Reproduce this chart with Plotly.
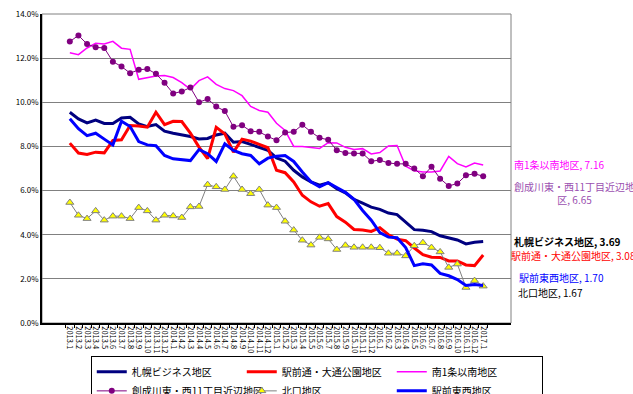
import plotly.graph_objects as go

# Monthly categories 2013.1 - 2017.1
months = [f"{y}.{m}" for y in range(2013, 2017) for m in range(1, 13)] + ["2017.1"]

# Vacancy rates (%) by district
sapporo_business = [9.55, 9.25, 9.07, 9.19, 9.04, 9.04, 9.29, 9.32, 9.02, 8.90, 8.99, 8.69, 8.60,
                    8.54, 8.45, 8.34, 8.36, 8.52, 8.60, 8.19, 8.22, 8.09, 7.94, 7.82, 7.48,
                    7.33, 6.92, 6.62, 6.39, 6.24, 6.35, 6.08, 5.90, 5.60, 5.43, 5.25, 5.15,
                    4.98, 4.91, 4.55, 4.23, 4.20, 4.14, 3.95, 3.84, 3.76, 3.58, 3.66, 3.69]
ekimae_odori = [8.15, 7.70, 7.64, 7.74, 7.71, 8.27, 8.30, 8.95, 8.93, 8.87, 9.55, 8.99, 9.14,
                9.13, 8.60, 7.97, 7.45, 8.87, 8.57, 7.74, 8.33, 8.24, 8.09, 7.94, 6.92,
                6.81, 6.39, 5.79, 5.49, 5.29, 5.41, 4.82, 4.57, 4.24, 4.21, 4.15, 4.32,
                4.00, 3.80, 3.73, 3.40, 3.10, 2.98, 2.97, 2.81, 2.81, 2.63, 2.60, 3.08]
minami1jo = [12.24, 12.16, 12.46, 12.67, 12.64, 12.76, 12.45, 12.40, 11.04, 11.10, 11.19, 11.21, 11.12,
             10.89, 10.59, 10.98, 11.15, 10.81, 10.62, 10.53, 10.30, 9.81, 9.63, 9.55, 9.05,
             8.72, 8.00, 8.00, 7.94, 7.91, 8.17, 8.16, 7.96, 7.86, 7.90, 7.66, 7.72,
             8.02, 8.04, 7.10, 6.90, 6.84, 6.84, 6.89, 7.55, 7.22, 7.07, 7.25, 7.16]
soseigawa = [12.75, 13.03, 12.64, 12.49, 12.46, 11.84, 11.62, 11.32, 11.47, 11.51, 11.29, 10.88, 10.40,
             10.49, 10.67, 10.00, 10.15, 9.81, 9.60, 8.89, 8.96, 8.69, 8.66, 8.45, 8.28,
             8.63, 8.66, 8.98, 8.66, 8.39, 8.30, 7.83, 7.70, 7.68, 7.68, 7.33, 7.38,
             7.25, 7.21, 7.21, 7.00, 6.65, 7.08, 6.54, 6.21, 6.32, 6.69, 6.76, 6.65]
kitaguchi = [5.46, 4.88, 4.73, 5.08, 4.66, 4.84, 4.84, 4.73, 5.23, 5.08, 4.66, 4.88, 4.85,
             4.78, 5.26, 5.28, 6.27, 6.17, 6.05, 6.65, 6.05, 5.86, 6.05, 5.34, 5.23,
             4.61, 4.21, 3.75, 3.53, 3.88, 3.81, 3.33, 3.52, 3.43, 3.43, 3.43, 3.41,
             3.16, 3.16, 3.04, 3.50, 3.64, 3.42, 3.22, 2.52, 2.67, 1.61, 1.92, 1.67]
ekimae_tozai = [9.25, 8.80, 8.49, 8.60, 8.33, 8.07, 9.14, 8.90, 8.22, 8.07, 8.03, 7.59, 7.44,
                7.39, 7.36, 7.86, 7.67, 7.32, 8.12, 7.82, 7.67, 7.59, 7.21, 7.47, 7.56,
                7.59, 7.32, 6.84, 6.40, 6.17, 6.36, 6.14, 5.92, 5.60, 5.10, 4.66, 4.10,
                3.89, 3.86, 3.42, 2.60, 2.68, 2.63, 2.25, 2.14, 1.97, 1.70, 1.74, 1.70]

y_ticks = [0, 2, 4, 6, 8, 10, 12, 14]
y_tick_labels = ["0.0%", "2.0%", "4.0%", "6.0%", "8.0%", "10.0%", "12.0%", "14.0%"]

FONT = "Noto Sans CJK JP"

series = [
    # name, values, colour, width, marker, label colour, label bold, label x/y shift(px)
    ("札幌ビジネス地区", sapporo_business, "#000080", 3, None, "#000000", True, (1, 0)),
    ("駅前通・大通公園地区", ekimae_odori, "#FF0000", 3, None, "#FF0000", False, (-2, 0)),
    ("南1条以南地区", minami1jo, "#FF00FF", 1.5, None, "#FF00FF", False, (1, 0)),
    ("創成川東・西11丁目近辺地区", soseigawa, "#800080", 1, "circle", "#9B4FB0", False, (1, -17)),
    ("北口地区", kitaguchi, "#808080", 1, "triangle-up", "#000000", False, (5, -6)),
    ("駅前東西地区", ekimae_tozai, "#0000FF", 3, None, "#0000FF", False, (6, 8)),
]

fig = go.Figure()
for name, vals, color, width, symbol, _, _, _ in series:
    kw = dict(x=months, y=vals, name=name, line=dict(color=color, width=width))
    if symbol == "circle":
        kw.update(mode="lines+markers", marker=dict(symbol="circle", size=6, color=color))
    elif symbol == "triangle-up":
        kw.update(mode="lines+markers",
                  marker=dict(symbol="triangle-up", size=7, color="#FFFF00",
                              line=dict(color="#808080", width=1)))
    else:
        kw.update(mode="lines")
    fig.add_trace(go.Scatter(**kw))

# End-of-series value labels to the right of the plot
for name, vals, color, width, symbol, lcolor, bold, (dx, dy) in series:
    last = vals[-1]
    if name == "創成川東・西11丁目近辺地区":
        text = "創成川東・西11丁目近辺地<br>区, " + f"{last:.2f}"
        align = "center"
    else:
        text = f"{name}, {last:.2f}"
        align = "left"
    if bold:
        text = f"<b>{text}</b>"
    fig.add_annotation(x=1.0, xref="paper", xanchor="left", xshift=dx,
                       y=last, yref="y", yshift=dy, text=text, showarrow=False,
                       align=align, font=dict(family=FONT, size=10, color=lcolor))

# Grey plot-area border (top/right)
fig.add_shape(type="rect", xref="paper", yref="paper", x0=0, x1=1, y0=0, y1=1,
              line=dict(color="#808080", width=1), layer="below")

fig.update_layout(
    width=633, height=394,
    margin=dict(l=42, r=122, t=14, b=71, autoexpand=False),
    paper_bgcolor="white", plot_bgcolor="white",
    font=dict(family=FONT, size=8, color="#000000"),
    legend=dict(orientation="h", x=0.104, xanchor="left", y=-0.108, yanchor="top",
                entrywidth=105, itemwidth=30, bordercolor="#000000", borderwidth=1,
                bgcolor="white", font=dict(family=FONT, size=10),
                tracegroupgap=0),
    showlegend=True,
)
fig.update_xaxes(type="category", tickmode="array", tickvals=months, ticktext=months,
                 tickangle=90, tickfont=dict(size=7.5),
                 ticks="outside", tickson="boundaries", ticklen=3, tickcolor="#000000",
                 showline=True, linecolor="#000000", linewidth=1.5,
                 showgrid=False, zeroline=False)
fig.update_yaxes(range=[0, 14], tickmode="array", tickvals=y_ticks, ticktext=y_tick_labels,
                 tickfont=dict(size=8), showgrid=True, gridcolor="#808080", gridwidth=1,
                 showline=True, linecolor="#000000", linewidth=1.5, zeroline=False,
                 ticks="")

fig.write_html("out.html")
